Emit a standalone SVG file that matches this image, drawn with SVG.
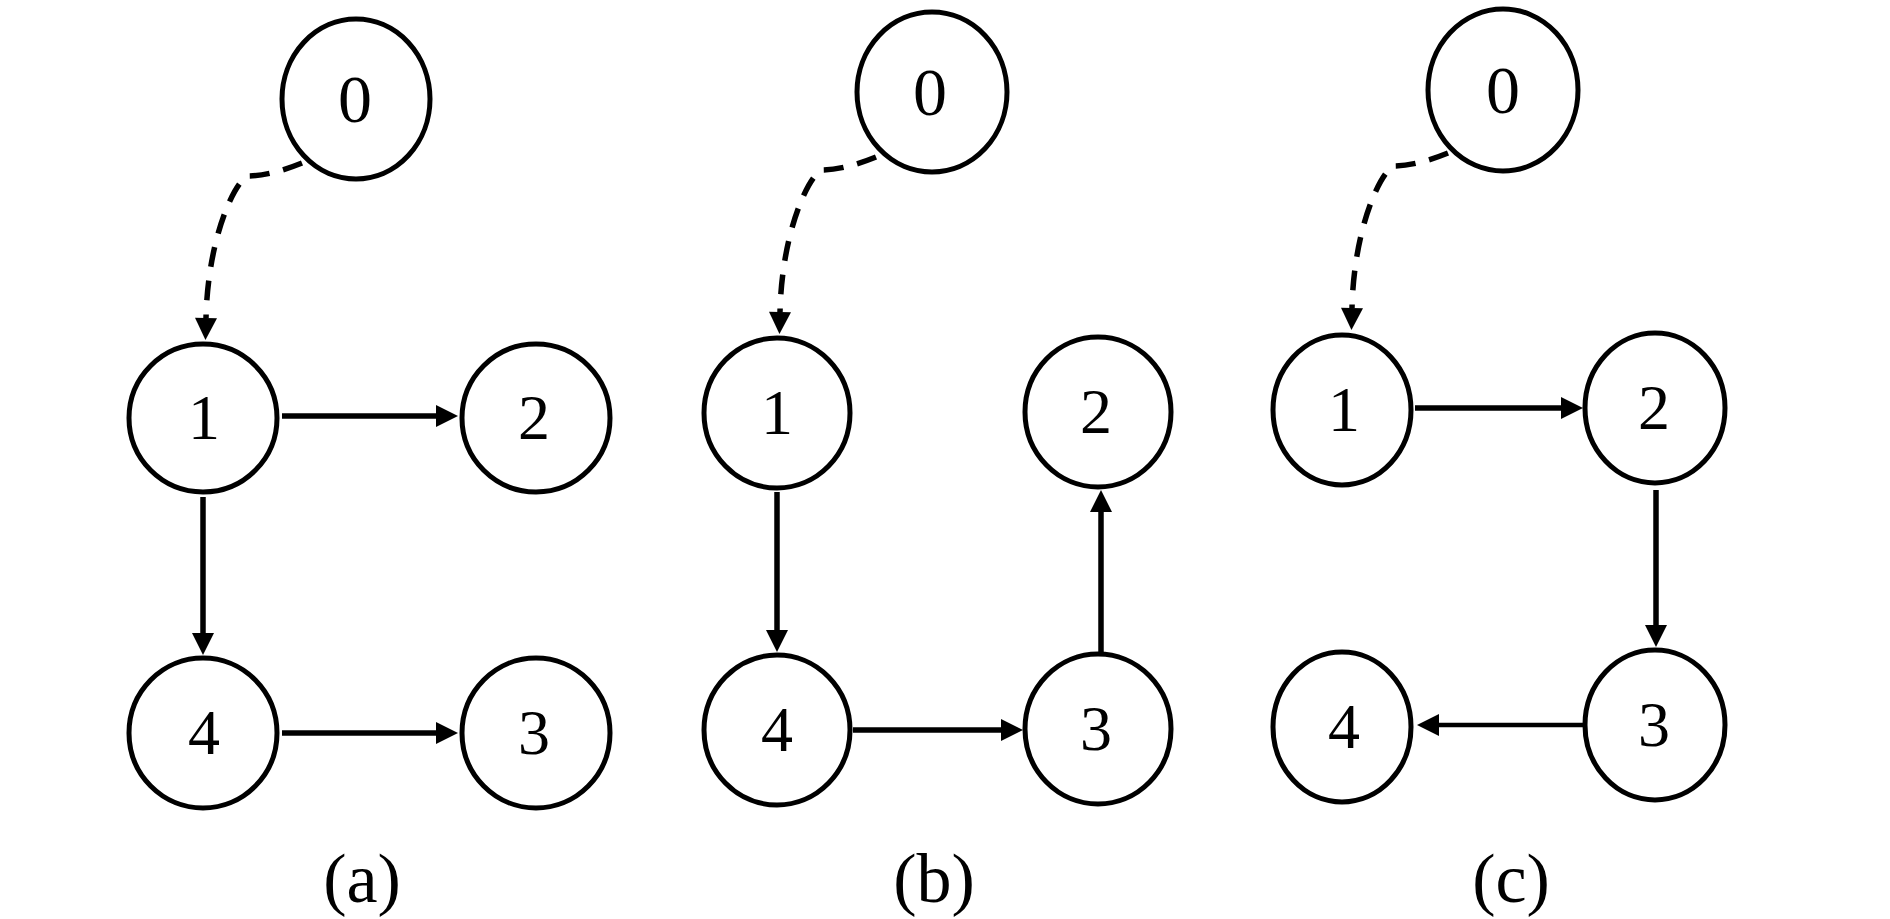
<svg xmlns="http://www.w3.org/2000/svg" width="1890" height="919" viewBox="0 0 1890 919">
<style>
.node{fill:#fff;stroke:#000;stroke-width:5}
.lbl{font-family:"Liberation Serif","DejaVu Serif",serif;font-size:64px;text-anchor:middle;fill:#000}
.lbl0{font-family:"Liberation Serif","DejaVu Serif",serif;font-size:68px;text-anchor:middle;fill:#000}
.cap{font-family:"Liberation Serif","DejaVu Serif",serif;font-size:70px;text-anchor:middle;fill:#000}
.edge{fill:none;stroke:#000;stroke-width:5.5;marker-end:url(#ah)}
.dash{fill:none;stroke:#000;stroke-width:5.5;stroke-dasharray:20 14;marker-end:url(#ah)}
</style>
<defs>
<marker id="ah" markerUnits="userSpaceOnUse" markerWidth="24" markerHeight="24" refX="0" refY="11" orient="auto" overflow="visible">
<path d="M0,0 L22,11 L0,22 Z" fill="#000"/>
</marker>
</defs>
<rect width="1890" height="919" fill="#fff"/>
<g id="connectors">
<path class="dash" d="M302,163 Q270,176 248,176 C236,180 208,235 206,318"/>
<path class="edge" d="M282,416 L436,416"/>
<path class="edge" d="M203,497 L203,633"/>
<path class="edge" d="M282,733 L436,733"/>
<path class="dash" d="M876,157 Q844,170 822,170 C810,174 782,229 780,312"/>
<path class="edge" d="M777,492 L777,630"/>
<path class="edge" d="M1101,652 L1101,512"/>
<path class="edge" d="M853,730 L1001,730"/>
<path class="dash" d="M1448,153 Q1416,166 1394,166 C1382,170 1354,225 1352,308"/>
<path class="edge" d="M1415,408 L1561,408"/>
<path class="edge" d="M1656,490 L1656,625"/>
<path class="edge" style="stroke-width:4.5" d="M1583,725 L1439,725"/>
</g>
<g id="a-n0"><ellipse class="node" cx="356" cy="99" rx="74" ry="80"/><text class="lbl0" x="355" y="122">0</text></g>
<g id="a-n1"><ellipse class="node" cx="203" cy="418" rx="74" ry="74"/><text class="lbl" x="204" y="439">1</text></g>
<g id="a-n2"><ellipse class="node" cx="536" cy="418" rx="74" ry="74"/><text class="lbl" x="534" y="439">2</text></g>
<g id="a-n4"><ellipse class="node" cx="203" cy="733" rx="74" ry="75"/><text class="lbl" x="204" y="754">4</text></g>
<g id="a-n3"><ellipse class="node" cx="536" cy="733" rx="74" ry="75"/><text class="lbl" x="534" y="754">3</text></g>
<g id="b-n0"><ellipse class="node" cx="932" cy="92" rx="75" ry="80"/><text class="lbl0" x="930" y="115">0</text></g>
<g id="b-n1"><ellipse class="node" cx="777" cy="413" rx="73" ry="75"/><text class="lbl" x="777" y="434">1</text></g>
<g id="b-n2"><ellipse class="node" cx="1098" cy="412" rx="73" ry="75"/><text class="lbl" x="1096" y="433">2</text></g>
<g id="b-n4"><ellipse class="node" cx="777" cy="730" rx="73" ry="75"/><text class="lbl" x="777" y="751">4</text></g>
<g id="b-n3"><ellipse class="node" cx="1098" cy="729" rx="73" ry="75"/><text class="lbl" x="1096" y="750">3</text></g>
<g id="c-n0"><ellipse class="node" cx="1503" cy="90" rx="75" ry="81"/><text class="lbl0" x="1503" y="113">0</text></g>
<g id="c-n1"><ellipse class="node" cx="1342" cy="410" rx="69" ry="75"/><text class="lbl" x="1344" y="431">1</text></g>
<g id="c-n2"><ellipse class="node" cx="1655" cy="408" rx="70" ry="75"/><text class="lbl" x="1654" y="429">2</text></g>
<g id="c-n4"><ellipse class="node" cx="1342" cy="727" rx="69" ry="75"/><text class="lbl" x="1344" y="748">4</text></g>
<g id="c-n3"><ellipse class="node" cx="1655" cy="725" rx="70" ry="75"/><text class="lbl" x="1654" y="746">3</text></g>
<g id="captions">
<text class="cap" x="362" y="902">(a)</text>
<text class="cap" x="934" y="902">(b)</text>
<text class="cap" x="1511" y="902">(c)</text>
</g>
</svg>
